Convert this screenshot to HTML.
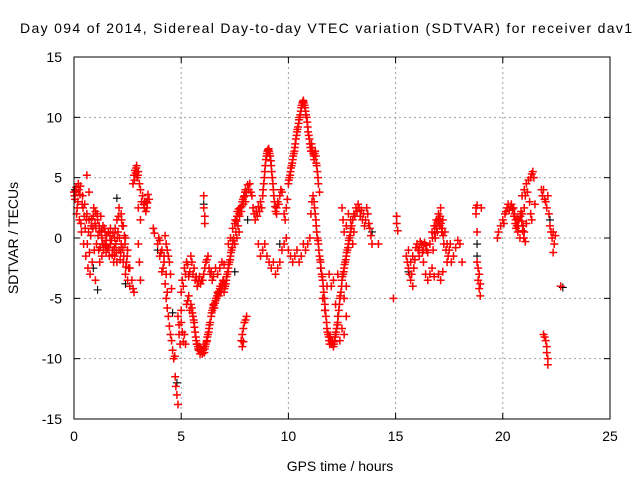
<!DOCTYPE html>
<html><head><meta charset="utf-8">
<style>
html,body{margin:0;padding:0;background:#fff;}
svg{display:block;font-family:"Liberation Sans",sans-serif;}
</style></head>
<body>
<svg id="chart" width="640" height="480">
</svg>
<script>
// ---- data ----
const xTicks = [0,5,10,15,20,25];
const yTicks = [-15,-10,-5,0,5,10,15];
const redPoints = [
[0.0,3.8],[0.05,3.2],[0.1,4.2],[0.15,2.5],[0.2,4.5],[0.25,1.5],[0.3,4.3],[0.35,0.5],[0.4,3.5],[0.45,-0.5],[0.5,2.8],[0.55,-1.5],[0.6,2.0],[0.6,5.2],[0.65,-2.5],[0.7,1.5],[0.7,3.8],[0.75,-3.0],[0.8,1.0],[0.85,-2.0],[0.9,1.8],[0.95,-1.0],[1.0,2.2],[1.0,-3.5],[1.05,-0.5],[1.1,1.5],[1.15,-1.0],[1.2,0.5],[1.2,-2.0],[1.25,1.8],[1.3,0.0],[1.3,-1.5],[1.35,1.0],[1.4,-0.5],[1.45,0.5],[1.5,-0.2],[1.5,-1.2],[1.55,-0.8],[1.6,0.5],[1.65,-1.5],[1.7,-0.5],[1.7,0.8],[1.75,-0.2],[1.8,-1.0],[1.85,-2.0],[1.9,0.0],[1.9,-1.5],[1.95,-0.5],[2.0,1.5],[2.0,-2.0],[2.05,0.5],[2.1,2.5],[2.1,-1.0],[2.15,-1.8],[2.2,2.0],[2.2,-0.5],[2.25,1.0],[2.3,1.0],[2.3,-2.0],[2.35,0.2],[2.4,0.0],[2.4,-3.0],[2.45,-2.0],[2.5,-1.0],[2.5,-3.5],[2.55,-2.5],[2.6,-2.5],[2.6,-4.0],[2.7,-3.5],[2.75,-4.2],[2.8,-4.5],
[0.02,3.5],[0.08,3.9],[0.12,2.0],[0.18,3.0],[0.22,4.0],[0.28,3.6],[0.32,1.2],[0.38,2.8],[0.42,2.5],[0.48,1.8],[0.52,0.8],[0.58,1.5],[0.62,-0.5],[0.68,0.5],[0.72,-1.2],[0.78,0.2],[0.82,1.6],[0.88,0.8],[0.92,2.5],[0.98,1.2],[1.02,0.8],[1.08,2.0],[1.12,0.2],[1.18,1.0],[1.22,-0.8],[1.28,0.6],[1.32,-0.5],[1.38,-1.0],[1.42,0.8],[1.48,-0.6],[1.52,0.2],[1.62,-0.8],[1.68,0.2],[1.78,-1.4],[1.82,0.4],[1.88,-0.8],[1.92,0.8],[1.98,-1.2],[2.02,0.0],[2.08,1.8],[2.12,0.0],[2.18,-1.2],[2.22,1.5],[2.28,-0.8],[2.32,-1.5],[2.38,-0.5],[2.42,-2.4],[2.48,-1.5],
[2.75,4.5],[2.8,5.2],[2.85,5.6],[2.9,5.8],[2.95,5.0],[3.0,5.5],[3.05,4.5],[3.1,4.0],[3.15,3.0],[3.2,3.5],[3.25,2.8],[3.3,3.0],[3.35,2.2],[3.4,2.5],[3.45,3.6],[3.5,3.2],[3.0,2.5],[3.1,1.5],[3.0,-0.5],[3.05,-2.0],[3.1,-3.5],[2.82,4.8],[2.88,5.4],[2.92,6.0],[2.98,5.2],[3.28,2.5],[3.38,3.0],[3.42,2.9],
[3.7,0.8],[3.75,0.4],[3.9,-0.5],[3.95,0.0],[4.0,-0.2],[4.05,-1.2],[4.1,-1.0],[4.15,-2.5],[4.2,-2.0],[4.25,-3.8],[4.3,-3.0],[4.35,-4.5],[4.0,-1.5],[4.1,-2.8],[4.2,-1.5],[4.25,0.2],[4.3,-0.5],[4.35,-1.0],[4.4,-1.5],[4.45,-2.0],[4.5,-3.0],[4.55,-4.2],
[4.3,-5.0],[4.35,-5.8],[4.4,-6.5],[4.45,-7.3],[4.5,-8.0],[4.55,-8.5],[4.6,-9.3],[4.65,-10.0],[4.7,-9.8],[4.72,-11.5],[4.75,-12.3],[4.8,-13.0],[4.85,-13.8],[4.85,-6.5],[4.9,-7.2],[4.9,-8.0],[4.95,-8.8],[5.0,-6.0],
[5.0,-4.5],[5.05,-3.5],[5.1,-4.0],[5.15,-2.5],[5.2,-3.0],[5.25,-2.0],[5.3,-2.2],[5.35,-3.2],[5.4,-2.8],[5.45,-1.5],[5.5,-2.0],[5.55,-3.0],[5.6,-2.5],[5.65,-3.5],[5.7,-3.2],[5.75,-4.0],[5.8,-3.6],[5.85,-3.2],[5.9,-3.8],[5.95,-3.5],
[5.0,-7.0],[5.05,-7.8],[5.1,-8.6],[5.15,-8.0],[5.2,-8.8],[5.25,-5.5],[5.3,-5.2],[5.35,-4.8],[5.4,-6.0],[5.45,-5.5],
[5.5,-5.8],[5.55,-6.5],[5.6,-7.0],[5.65,-7.8],[5.7,-8.5],[5.75,-8.8],[5.8,-9.2],[5.85,-9.0],[5.9,-9.4],[5.95,-9.3],[6.0,-9.5],[6.05,-9.0],[6.1,-9.2],[6.15,-8.8],[6.2,-8.5],[6.25,-8.0],[6.3,-7.5],[6.35,-7.0],
[5.52,-6.2],[5.58,-6.8],[5.62,-7.4],[5.68,-8.2],[5.72,-8.8],[5.78,-9.0],[5.82,-9.3],[5.88,-9.6],[5.92,-9.1],[5.98,-9.6],[6.02,-9.3],[6.08,-9.5],[6.12,-9.0],[6.18,-8.6],[6.22,-8.2],[6.28,-7.8],[6.32,-7.2],
[6.05,3.5],[6.05,2.5],[6.1,1.8],[6.1,1.2],
[6.0,-3.5],[6.05,-3.0],[6.1,-2.5],[6.15,-2.0],[6.2,-1.8],[6.25,-1.5],[6.3,-2.5],[6.35,-3.0],[6.4,-2.8],[6.45,-3.5],[6.5,-3.2],
[6.4,-6.5],[6.45,-6.0],[6.5,-5.5],[6.55,-5.8],[6.6,-5.2],[6.65,-5.0],[6.7,-4.5],[6.75,-4.8],[6.8,-4.2],[6.85,-4.5],[6.9,-4.0],[6.95,-3.5],[7.0,-3.8],
[6.42,-6.2],[6.48,-5.8],[6.52,-5.6],[6.58,-5.4],[6.62,-5.0],[6.68,-4.8],[6.72,-4.6],[6.78,-4.4],[6.82,-4.0],[6.88,-4.2],[6.92,-3.8],[6.98,-3.6],
[6.6,-2.5],[6.7,-3.0],[6.8,-2.5],[6.9,-2.0],[7.0,-2.2],
[7.0,-4.5],[7.05,-4.0],[7.1,-3.5],[7.15,-3.0],[7.2,-2.5],[7.25,-2.0],[7.3,-1.5],[7.35,-1.0],[7.4,-0.5],[7.45,0.0],[7.5,-0.5],[7.55,0.5],[7.6,0.0],[7.65,1.0],[7.7,0.5],
[7.02,-4.2],[7.08,-3.8],[7.12,-3.2],[7.18,-2.8],[7.22,-2.2],[7.28,-1.8],[7.32,-1.2],[7.38,-0.8],[7.42,-0.2],
[7.2,-0.5],[7.3,0.0],[7.4,0.8],[7.5,1.2],[7.6,1.8],[7.7,2.0],[7.75,2.5],[7.8,2.2],[7.85,3.0],[7.9,2.8],[7.95,3.5],[8.0,3.0],
[7.52,1.5],[7.58,1.4],[7.62,2.2],[7.68,2.4],[7.72,1.8],[7.82,2.6],[7.88,3.2],[7.92,3.4],[7.98,3.8],
[8.0,4.0],[8.05,3.8],[8.1,4.4],[8.15,4.0],[8.2,4.5],[8.25,3.8],[8.3,3.5],
[7.8,-8.5],[7.85,-8.0],[7.9,-7.5],[7.95,-7.0],[8.0,-6.8],[8.05,-6.5],[7.85,-9.0],[7.9,-8.6],
[8.35,2.5],[8.4,2.0],[8.45,1.5],[8.5,2.2],[8.55,1.8],[8.6,2.6],[8.65,2.2],[8.7,3.0],[8.75,2.5],[8.8,3.5],[8.85,4.5],[8.9,5.5],[8.95,6.5],[9.0,7.0],[9.05,7.3],[9.1,7.2],[9.15,6.8],[9.2,6.0],[9.25,5.0],[9.3,4.0],[9.35,3.0],[9.4,2.2],[9.45,2.0],
[8.82,4.0],[8.88,5.0],[8.92,6.0],[8.98,6.8],[9.02,7.2],[9.08,7.4],[9.12,7.0],[9.18,6.4],[9.22,5.5],[9.28,4.5],[9.32,3.5],[9.38,2.6],
[8.6,-0.5],[8.7,-1.5],[8.8,-1.0],[8.9,-0.5],[9.0,-1.5],[9.1,-2.0],[9.2,-2.5],[9.3,-2.0],[9.4,-3.0],[9.5,-2.5],[9.6,-2.0],[9.7,-1.0],[9.8,-0.5],[9.9,0.0],
[9.45,2.5],[9.5,3.0],[9.55,2.8],[9.6,3.5],[9.65,4.0],[9.7,3.8],[9.8,2.0],[9.85,1.5],[9.9,2.5],[9.95,3.2],
[10.0,4.5],[10.05,5.0],[10.1,5.5],[10.15,6.0],[10.2,6.5],[10.25,7.0],[10.3,7.5],[10.35,8.2],[10.4,8.8],[10.45,9.2],[10.5,9.8],[10.55,10.2],[10.6,10.8],[10.65,11.2],[10.7,11.4],[10.75,11.0],[10.8,10.5],[10.85,10.0],[10.9,9.2],[10.95,8.5],[11.0,7.8],[11.05,7.2],[11.1,7.5],[11.15,7.0],[11.2,6.5],[11.25,7.2],[11.3,6.2],[11.35,5.5],[11.4,4.5],[11.45,3.8],
[10.02,4.8],[10.08,5.2],[10.12,5.8],[10.18,6.2],[10.22,6.8],[10.28,7.2],[10.32,7.8],[10.38,8.5],[10.42,9.0],[10.48,9.5],[10.52,10.0],[10.58,10.5],[10.62,11.0],[10.68,11.3],[10.72,11.2],[10.78,10.8],[10.82,10.2],[10.88,9.6],[10.92,8.8],[10.98,8.2],[11.02,7.5],[11.08,7.8],[11.12,7.2],[11.18,6.8],[11.22,7.0],[11.28,6.8],[11.32,6.0],[11.38,5.0],
[10.0,-1.0],[10.1,-1.5],[10.2,-2.0],[10.3,-1.5],[10.4,-1.0],[10.5,-2.0],[10.6,-1.5],[10.7,-0.5],[10.8,-1.0],[10.9,-0.5],[11.0,0.0],[11.05,2.0],[11.1,3.0],[11.15,3.5],
[11.2,3.0],[11.25,2.0],[11.3,1.0],[11.35,0.0],[11.4,-0.5],[11.45,-1.5],[11.5,-2.0],[11.55,-3.0],[11.6,-3.5],[11.65,-4.5],[11.7,-5.5],[11.75,-6.5],[11.8,-7.5],[11.85,-8.0],[11.9,-8.5],[11.95,-8.2],[12.0,-8.8],[12.05,-8.5],[12.1,-9.0],[12.15,-8.6],[12.2,-8.0],[12.25,-7.5],[12.3,-7.0],[12.35,-6.0],[12.4,-5.0],[12.45,-4.5],[12.5,-3.5],[12.55,-3.0],[12.6,-2.5],[12.65,-2.0],[12.7,-1.5],[12.75,-1.0],[12.8,-0.5],[12.85,0.0],[12.9,0.5],[12.95,1.0],
[11.22,2.5],[11.28,1.5],[11.32,0.5],[11.38,-0.2],[11.42,-1.0],[11.48,-1.8],[11.52,-2.5],[11.58,-3.2],[11.62,-4.0],[11.68,-5.0],[11.72,-6.0],[11.78,-7.0],[11.82,-7.8],[11.88,-8.2],[11.92,-8.8],[11.98,-8.5],[12.02,-8.6],[12.08,-8.8],[12.12,-8.8],[12.18,-8.2],[12.22,-7.8],[12.28,-7.2],[12.32,-6.5],[12.38,-5.5],[12.42,-4.8],[12.48,-4.0],[12.52,-3.2],[12.58,-2.8],[12.62,-2.2],[12.68,-1.8],[12.72,-1.2],[12.78,-0.8],[12.82,-0.2],[12.88,0.2],[12.92,0.8],
[11.6,-5.0],[11.7,-6.0],[11.8,-4.0],[11.9,-3.0],[12.0,-4.0],[12.1,-3.5],[12.2,-5.5],[12.3,-3.0],[12.4,-8.5],[12.5,-7.5],[12.6,-8.0],[12.7,-6.5],[12.6,-5.0],[12.7,-4.0],
[12.5,2.5],[12.55,1.5],[12.6,0.5],[12.7,1.0],[12.8,2.0],[12.9,1.5],[13.0,-0.5],[13.05,0.5],
[13.0,1.5],[13.05,2.0],[13.1,1.8],[13.15,2.5],[13.2,2.2],[13.25,2.8],[13.3,2.5],[13.35,1.8],[13.4,2.3],[13.45,1.5],[13.5,2.0],[13.55,1.0],[13.6,1.5],[13.65,2.5],[13.7,2.0],[13.75,1.2],[13.8,0.8],[13.85,0.2],[13.9,-0.5],
[14.2,-0.5],[14.9,-5.0],[15.05,1.8],[15.05,1.2],[15.1,0.6],
[15.5,-1.5],[15.55,-2.0],[15.6,-2.5],[15.65,-3.0],[15.7,-3.5],[15.75,-3.0],[15.8,-4.0],[15.7,-2.0],[15.6,-1.0],[15.8,-1.5],[15.85,-2.5],[15.9,-1.8],[15.95,-0.8],
[16.0,-0.5],[16.1,-0.8],[16.2,-0.5],[16.3,-1.0],[16.4,-0.6],[16.5,-1.2],[16.1,-1.5],[16.3,-2.0],
[16.05,-1.0],[16.15,-0.3],[16.25,-1.2],[16.35,-0.4],[16.45,-1.0],
[16.4,-3.0],[16.5,-3.5],[16.6,-3.0],[16.7,-2.5],[16.8,-3.2],[17.0,-3.0],[17.1,-3.5],[17.2,-2.8],
[16.6,-0.5],[16.7,0.5],[16.75,-1.0],[16.8,1.0],[16.85,0.0],[16.9,1.5],[16.95,0.5],[17.0,2.0],[17.05,1.0],[17.1,2.5],[17.15,0.5],[17.2,1.5],[17.25,-0.5],[17.3,0.5],[17.35,-1.0],[17.4,-0.5],[17.45,-1.5],[17.5,-1.0],[17.55,-0.5],[17.6,-2.0],[17.7,-1.5],[17.8,-0.8],[17.9,-0.2],[18.0,-0.5],[18.1,-2.0],[17.4,-2.0],
[16.72,0.0],[16.82,0.4],[16.88,1.0],[16.92,0.8],[16.98,1.4],[17.02,1.6],[17.08,1.8],[17.12,1.2],[17.18,0.8],[17.22,0.2],
[18.75,2.5],[18.8,2.7],[18.75,2.0],[18.8,0.5],[18.8,-2.0],[18.85,-2.5],[18.9,-3.0],[18.85,-3.5],[18.9,-4.2],[18.95,-4.8],[18.95,-3.8],[19.0,2.5],
[19.75,0.0],[19.8,0.5],[19.9,1.0],[20.0,1.5],[20.05,1.2],[20.1,2.0],[20.2,2.5],[20.3,2.3],[20.4,2.8],[20.5,2.5],[20.55,2.0],[20.6,1.5],[20.65,1.0],[20.7,0.5],[20.75,1.5],[20.8,0.0],[20.85,2.2],[20.9,2.0],[20.95,1.0],[21.0,0.5],[21.05,-0.3],[21.1,1.2],[21.0,2.5],
[20.15,2.2],[20.25,2.8],[20.35,2.6],[20.45,2.4],[20.52,1.8],[20.58,1.2],[20.62,0.8],[20.68,1.6],[20.72,1.0],[20.82,1.8],[20.88,1.4],[20.92,0.6],[20.98,0.0],
[20.9,3.5],[21.0,4.0],[21.05,3.5],[21.1,4.5],[21.15,3.8],[21.2,4.8],[21.3,5.0],[21.35,5.3],[21.4,5.5],[21.45,5.0],[21.25,3.0],[21.3,2.0],[21.35,1.5],[21.5,2.8],
[21.8,4.0],[21.85,3.5],[21.9,4.0],[21.95,3.2],[22.0,3.0],[22.05,2.5],[22.1,3.5],[22.15,2.0],[22.2,1.0],[22.25,0.5],[22.3,0.0],[22.35,0.5],[22.4,-0.5],[22.35,-1.2],[22.45,0.2],
[21.9,-8.0],[21.95,-8.2],[22.0,-8.5],[22.05,-9.0],[22.05,-9.5],[22.1,-10.0],[22.1,-10.5],
[22.7,-4.0]
];
const blackPoints = [
[0.05,4.0],[0.9,-2.5],[1.1,-4.3],[2.0,3.3],[2.4,-3.8],[3.9,-1.0],[4.6,-6.2],[4.8,-12.0],[6.05,2.8],[7.5,-2.8],[8.1,1.5],[9.6,-0.5],[11.5,-2.5],[12.3,-6.5],[13.9,0.5],[15.6,-2.8],[18.8,-0.5],[18.8,-1.5],[22.2,1.5],[22.8,-4.1]
];

// ---- layout ----
const L=74,R=610,T=57,B=419;
const xMin=0,xMax=25,yMin=-15,yMax=15;
const sx=v=>L+(v-xMin)/(xMax-xMin)*(R-L);
const sy=v=>B-(v-yMin)/(yMax-yMin)*(B-T);
const NS="http://www.w3.org/2000/svg";
const svg=document.getElementById('chart');
function mk(tag,attrs,parent){const e=document.createElementNS(NS,tag);for(const k in attrs)e.setAttribute(k,attrs[k]);(parent||svg).appendChild(e);return e;}

const grid=mk('g',{});


xTicks.forEach(t=>{
  if(t>xMin&&t<xMax){const l=mk('line',{x1:sx(t),x2:sx(t),y1:T,y2:B,stroke:'#a0a0a0','stroke-dasharray':'2,3','stroke-width':1},grid);
  }
});
yTicks.forEach(t=>{
  if(t>yMin&&t<yMax){const l=mk('line',{x1:L,x2:R,y1:sy(t),y2:sy(t),stroke:'#a0a0a0','stroke-dasharray':'2,3','stroke-width':1},grid);
  }
});

function plus(g,p,color,w){
  const x=sx(p[0]),y=sy(p[1]);
  const e=mk('path',{d:`M${x-4},${y}h8M${x},${y-4}v8`,stroke:color,'stroke-width':w,fill:'none'},g);
  
  
}
const gb=mk('g',{});


blackPoints.forEach(p=>plus(gb,p,'#000',1.1));
const gr=mk('g',{});


redPoints.forEach(p=>plus(gr,p,'#ff0000',1.5));

const frame=mk('rect',{x:L,y:T,width:R-L,height:B-T,fill:'none',stroke:'#000','stroke-width':1});



xTicks.forEach(t=>{
  mk('line',{x1:sx(t),x2:sx(t),y1:B,y2:B-6,stroke:'#000'});
  mk('line',{x1:sx(t),x2:sx(t),y1:T,y2:T+6,stroke:'#000'});
  const tx=mk('text',{x:sx(t),y:B+22,'text-anchor':'middle','font-size':14,fill:'#000'});
  tx.textContent=t;
  
  
});
yTicks.forEach(t=>{
  mk('line',{x1:L,x2:L+6,y1:sy(t),y2:sy(t),stroke:'#000'});
  mk('line',{x1:R,x2:R-6,y1:sy(t),y2:sy(t),stroke:'#000'});
  const tx=mk('text',{x:L-12,y:sy(t)+5,'text-anchor':'end','font-size':14,fill:'#000'});
  tx.textContent=t;
  
  
});

const title=mk('text',{x:20,y:33,'font-size':14,fill:'#000',textLength:612,lengthAdjust:'spacing'});
title.textContent='Day 094 of 2014, Sidereal Day-to-day VTEC variation (SDTVAR) for receiver dav1';


const xt=mk('text',{x:340,y:471,'text-anchor':'middle','font-size':14,fill:'#000'});
xt.textContent='GPS time / hours';


const yt=mk('text',{x:0,y:0,'text-anchor':'middle','font-size':14,fill:'#000',transform:'translate(18,238) rotate(-90)'});
yt.textContent='SDTVAR / TECUs';


</script>
</body></html>
